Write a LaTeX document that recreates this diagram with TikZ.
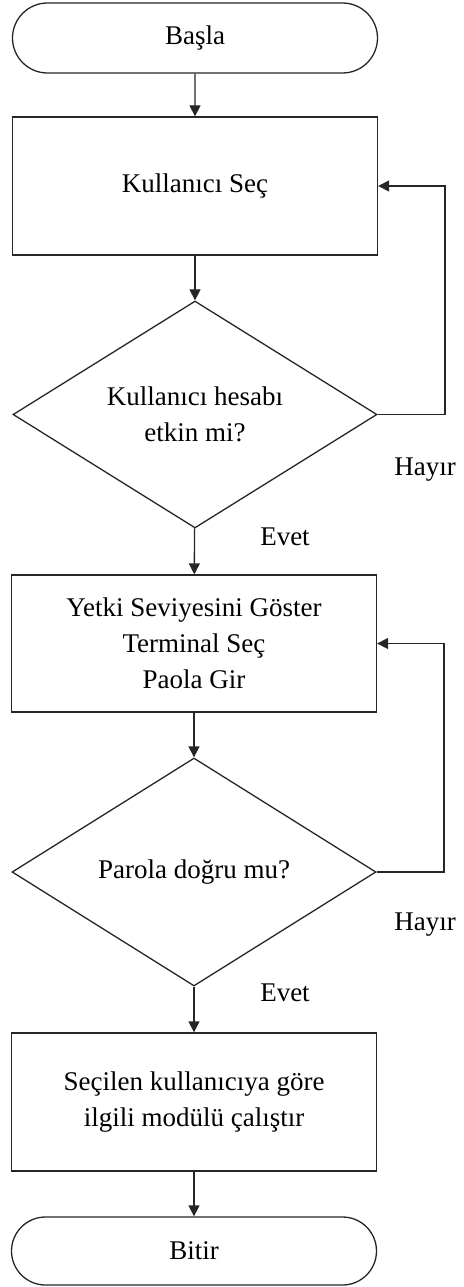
\documentclass[tikz,border=0pt]{standalone}
\usepackage{fontspec}
\setmainfont{Liberation Serif}
\usetikzlibrary{shapes.geometric,shapes.misc,arrows.meta}
\begin{document}
\begin{tikzpicture}[x=1pt,y=-1pt,
  edgeline/.style={draw=black!85,line width=1.3pt},
  terminal/.style={rounded rectangle,edgeline,minimum width=365pt,inner sep=0pt},
  process/.style={rectangle,edgeline,minimum width=365pt,minimum height=138pt,inner sep=0pt,align=center},
  decision/.style={diamond,edgeline,aspect=1.6,minimum width=364pt,minimum height=227pt,inner sep=0pt,align=center},
  flow/.style={edgeline,-{Triangle[width=11pt,length=11pt]}},
  tag/.style={inner sep=0pt},
  every node/.append style={font=\fontsize{27}{36}\selectfont}]
\useasboundingbox (0,0) rectangle (463,1287);

% main column
\node[terminal,minimum height=70pt] (start) at (195,38) {Başla};
\node[process] (choose) at (195,186) {Kullanıcı Seç};
\node[decision] (active) at (195,414.5) {Kullanıcı hesabı\\etkin mi?};
\node[process,minimum height=137pt] (show) at (194,643.5) {Yetki Seviyesini Göster\\Terminal Seç\\Paola Gir};
\node[decision,minimum height=228pt] (pwd) at (194,872) {Parola doğru mu?};
\node[process] (run) at (194,1102) {Seçilen kullanıcıya göre\\ilgili modülü çalıştır};
\node[terminal,minimum height=68pt] (stop) at (194,1251) {Bitir};

% return rails on the right
\coordinate (rail1) at (445,0);
\coordinate (rail2) at (444,0);

% connectors
\draw[flow] (start) -- (choose);
\draw[flow] (choose) -- (active);
\draw[flow] (active) -- (show);
\draw[flow] (show) -- (pwd);
\draw[flow] (pwd) -- (run);
\draw[flow] (run) -- (stop);
\draw[flow] (active.east) -- (active.east -| rail1) |- (choose.east);
\draw[flow] (pwd.east) -- (pwd.east -| rail2) |- (show.east);

% branch labels
\node[tag] (no1) at (425,470) {Hayır};
\node[tag] (yes1) at (285,537) {Evet};
\node[tag] (no2) at (425,925) {Hayır};
\node[tag] (yes2) at (285,993) {Evet};
\end{tikzpicture}
\end{document}
